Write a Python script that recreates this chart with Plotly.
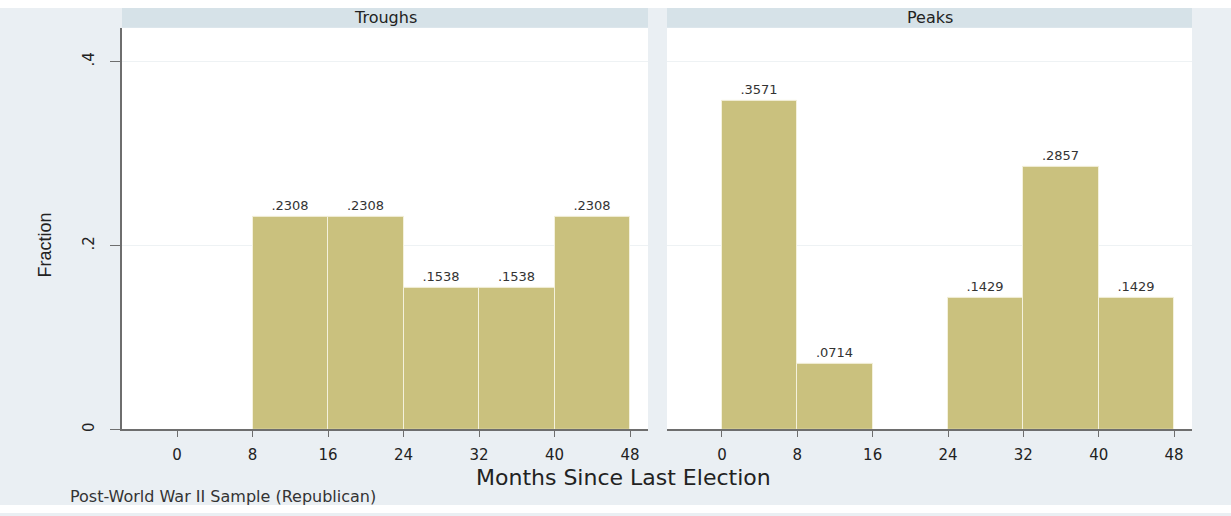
import plotly.graph_objects as go

# ---- data ----
bin_left = [0, 8, 16, 24, 32, 40]
bin_width = 8
troughs = [0, 0.2308, 0.2308, 0.1538, 0.1538, 0.2308]
peaks = [0.3571, 0.0714, 0, 0.1429, 0.2857, 0.1429]
panel_titles = ["Troughs", "Peaks"]
x_ticks = [0, 8, 16, 24, 32, 40, 48]
y_ticks = [0, 0.2, 0.4]
y_ticktext = ["0", ".2", ".4"]

W, H = 1231, 516
BG = "#EAEFF3"
STRIP = "#D6E2E8"
BAR = "#CAC17E"
AX = "#6E6E6E"
FONT = "DejaVu Sans"

def fmt(v):
    return f"{v:.4f}".lstrip("0")

def px_x(p):
    return p / W

def px_y(p):  # top-based pixel -> paper
    return (H - p) / H

left_dom = [px_x(122), px_x(648)]
right_dom = [px_x(667), px_x(1192)]
y_dom = [px_y(432), px_y(28)]

fig = go.Figure()
centers = [b + bin_width / 2 for b in bin_left]
for i, vals in enumerate([troughs, peaks]):
    xs = [c for c, v in zip(centers, vals) if v > 0]
    ys = [v for v in vals if v > 0]
    fig.add_trace(go.Bar(
        x=xs, y=ys, width=bin_width,
        marker=dict(color=BAR, line=dict(color="#F4F1DC", width=1)),
        text=[fmt(v) for v in ys], textposition="outside",
        textfont=dict(family=FONT, size=13, color="#333333"),
        cliponaxis=False, showlegend=False,
        xaxis="x" if i == 0 else "x2", yaxis="y" if i == 0 else "y2",
        hoverinfo="skip",
    ))

xcommon = dict(range=[-5.83, 49.9], tickvals=x_ticks, ticks="outside", ticklen=6,
               tickcolor=AX, showline=True, linecolor=AX, linewidth=1.5,
               showgrid=False, zeroline=False,
               tickfont=dict(family=FONT, size=15, color="#222222"),
               ticklabelstandoff=5)
ycommon = dict(range=[0, 0.4368], tickvals=y_ticks, showgrid=True,
               gridcolor="#EEF2F4", gridwidth=1, zeroline=False, domain=y_dom)

fig.update_layout(
    width=W, height=H,
    margin=dict(l=0, r=0, t=0, b=0),
    paper_bgcolor=BG, plot_bgcolor="white",
    bargap=0,
    xaxis=dict(domain=left_dom, anchor="y", **xcommon),
    xaxis2=dict(domain=right_dom, anchor="y2", **xcommon),
    yaxis=dict(anchor="x", ticktext=y_ticktext, ticks="outside", ticklen=10,
               tickcolor=AX, showline=True, linecolor=AX, linewidth=1.5,
               tickangle=-90, tickfont=dict(family=FONT, size=15, color="#222222"),
               ticklabelstandoff=10, **ycommon),
    yaxis2=dict(anchor="x2", showticklabels=False, ticks="", showline=False, **ycommon),
    font=dict(family=FONT),
)

shapes = [
    dict(type="rect", xref="paper", yref="paper", x0=0, x1=1, y0=px_y(8), y1=1,
         fillcolor="white", line=dict(width=0), layer="below"),
    dict(type="rect", xref="paper", yref="paper", x0=0, x1=1, y0=0, y1=px_y(508),
         fillcolor="white", line=dict(width=0), layer="below"),
]
for dom in [left_dom, right_dom]:
    shapes.append(dict(type="rect", xref="paper", yref="paper", x0=dom[0], x1=dom[1],
                       y0=px_y(28), y1=px_y(8), fillcolor=STRIP, line=dict(width=0),
                       layer="below"))
fig.update_layout(shapes=shapes)

ann = []
for dom, t in zip([left_dom, right_dom], panel_titles):
    ann.append(dict(text=t, xref="paper", yref="paper", x=(dom[0] + dom[1]) / 2,
                    y=px_y(18), showarrow=False, xanchor="center", yanchor="middle",
                    font=dict(family=FONT, size=16, color="#222222")))
ann.append(dict(text="Fraction", xref="paper", yref="paper", x=px_x(45), y=px_y(247),
                showarrow=False, textangle=-90, xanchor="center", yanchor="middle",
                font=dict(family="Liberation Sans Narrow, Liberation Sans", size=18, color="#222222")))
ann.append(dict(text="Months Since Last Election", xref="paper", yref="paper",
                x=px_x(623), y=px_y(480), showarrow=False, xanchor="center", yanchor="middle",
                font=dict(family=FONT, size=22, color="#222222")))
ann.append(dict(text="Post-World War II Sample (Republican)", xref="paper", yref="paper",
                x=px_x(68), y=px_y(499), showarrow=False, xanchor="left", yanchor="middle",
                font=dict(family=FONT, size=16, color="#333333")))
fig.update_layout(annotations=ann)

fig.write_html("out.html")
